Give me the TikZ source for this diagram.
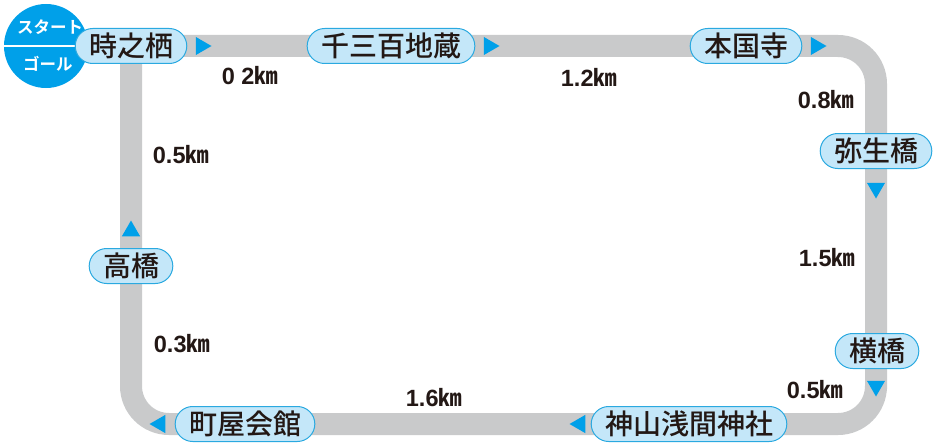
\documentclass[tikz,border=0pt]{standalone}
\usepackage{fontspec}
\usepackage{tikz}
\usetikzlibrary{shapes.geometric,shapes.misc,backgrounds}
\newfontfamily\jpfont{Noto Sans CJK JP Medium}
\newfontfamily\jpbold{Noto Sans CJK JP Bold}
\newfontfamily\numfont{Liberation Sans Bold}
\definecolor{routegray}{HTML}{C9CACB}
\definecolor{pillfill}{HTML}{C4E7F9}
\definecolor{pillline}{HTML}{2AA9E0}
\definecolor{markblue}{HTML}{00A0E9}
\definecolor{inkdark}{HTML}{231815}
\newcommand{\km}{{\jpbold ㎞}}

\begin{document}
\begin{tikzpicture}[x=1pt,y=-1pt,
                    stop/.style={rounded rectangle,draw=pillline,fill=pillfill,line width=1pt,
                                 text=inkdark,font=\jpfont\fontsize{28}{28}\selectfont,
                                 minimum height=35pt,inner xsep=8pt,inner ysep=0pt},
                    dist/.style={text=inkdark,font=\numfont\fontsize{23.5}{23.5}\selectfont,inner sep=0pt},
                    dir/.style={regular polygon,regular polygon sides=3,fill=markblue,
                                minimum size=21pt,inner sep=0pt},
                    sg/.style={text=white,font=\jpbold\fontsize{16.5}{16.5}\selectfont,inner sep=0pt}]
    \useasboundingbox (0,0) rectangle (934,444);

    % start / goal mark
    \node[circle,fill=markblue,minimum size=84pt,inner sep=0pt] (start) at (46,46) {};
    \draw[white,line width=2pt] (start.west) -- (start.east);
    \node[sg] (sta) at (50,27) {スタート};
    \node[sg] (gol) at (48,64) {ゴール};

    % stops
    \node[stop] (tokino) at (131,46) {時之栖};
    \node[stop] (senzo) at (391,46) {千三百地蔵};
    \node[stop] (honkoku) at (746,46) {本国寺};
    \node[stop] (yayoi) at (876,151) {弥生橋};
    \node[stop] (yoko) at (877,351) {横橋};
    \node[stop] (jinja) at (689,424) {神山浅間神社};
    \node[stop] (machiya) at (245,424) {町屋会館};
    \node[stop] (taka) at (131,266) {高橋};

    \coordinate (ne) at (876,46);
    \coordinate (se) at (876,424);
    \coordinate (sw) at (131,424);

    % route
    \begin{scope}[on background layer]
        \draw[routegray,line width=22pt,rounded corners=38pt]
            (tokino.center) -- (senzo.center) -- (honkoku.center) -- (ne)
            -- (yayoi.center |- yoko.center) -- (se)
            -- (jinja.center) -- (machiya.center) -- (sw)
            -- (taka.center) -- (tokino.center);
    \end{scope}

    % direction marks
    \node[dir,shape border rotate=-90] (d1) at (201,46) {};
    \node[dir,shape border rotate=-90] (d2) at (489,46) {};
    \node[dir,shape border rotate=-90] (d3) at (816,46) {};
    \node[dir,shape border rotate=180] (d4) at (876,188) {};
    \node[dir,shape border rotate=180] (d5) at (876,386) {};
    \node[dir,shape border rotate=90] (d6) at (580,424) {};
    \node[dir,shape border rotate=90] (d7) at (160,424) {};
    \node[dir] (d8) at (131,231) {};

    % distances
    \node[dist] (k1) at (250,76) {0 2\km};
    \node[dist] (k2) at (589,77) {1.2\km};
    \node[dist] (k3) at (826,100) {0.8\km};
    \node[dist] (k4) at (827,258) {1.5\km};
    \node[dist] (k5) at (815,390) {0.5\km};
    \node[dist] (k6) at (434,398) {1.6\km};
    \node[dist] (k7) at (181,155) {0.5\km};
    \node[dist] (k8) at (182,344) {0.3\km};
\end{tikzpicture}
\end{document}
